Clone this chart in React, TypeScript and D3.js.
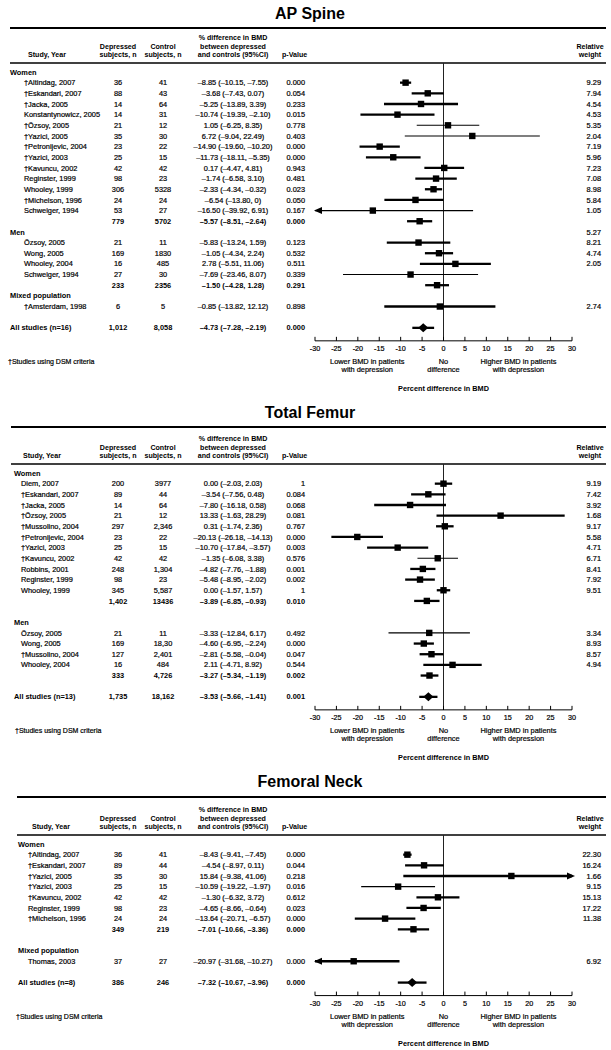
import React from "react";
import * as d3 from "d3";

type Study = [string, string, string, string, string, string]; // name, depressed n, control n, % diff (95%CI), p, weight

const FONT = "'Liberation Sans', Arial, Helvetica, sans-serif";

// ---------------- AP Spine ----------------
const apWomen: Study[] = [
  ["†Altindag, 2007", "36", "41", "–8.85 (–10.15, –7.55)", "0.000", "9.29"],
  ["†Eskandari, 2007", "88", "43", "–3.68 (–7.43, 0.07)", "0.054", "7.94"],
  ["†Jacka, 2005", "14", "64", "–5.25 (–13.89, 3.39)", "0.233", "4.54"],
  ["Konstantynowicz, 2005", "14", "31", "–10.74 (–19.39, –2.10)", "0.015", "4.53"],
  ["†Özsoy, 2005", "21", "12", "1.05 (–6.25, 8.35)", "0.778", "5.35"],
  ["†Yazici, 2005", "35", "30", "6.72 (–9.04, 22.49)", "0.403", "2.04"],
  ["†Petronijevic, 2004", "23", "22", "–14.90 (–19.60, –10.20)", "0.000", "7.19"],
  ["†Yazici, 2003", "25", "15", "–11.73 (–18.11, –5.35)", "0.000", "5.96"],
  ["†Kavuncu, 2002", "42", "42", "0.17 (–4.47, 4.81)", "0.943", "7.23"],
  ["Reginster, 1999", "98", "23", "–1.74 (–6.58, 3.10)", "0.481", "7.08"],
  ["Whooley, 1999", "306", "5328", "–2.33 (–4.34, –0.32)", "0.023", "8.98"],
  ["†Michelson, 1996", "24", "24", "–6.54 (–13.80, 0)", "0.050", "5.84"],
  ["Schweiger, 1994", "53", "27", "–16.50 (–39.92, 6.91)", "0.167", "1.05"],
];
const apWomenTotal: Study = ["", "779", "5702", "–5.57 (–8.51, –2.64)", "0.000", ""];
const apMenLabelWeight = "5.27";
const apMen: Study[] = [
  ["Özsoy, 2005", "21", "11", "–5.83 (–13.24, 1.59)", "0.123", "8.21"],
  ["Wong, 2005", "169", "1830", "–1.05 (–4.34, 2.24)", "0.532", "4.74"],
  ["Whooley, 2004", "16", "485", "2.78 (–5.51, 11.06)", "0.511", "2.05"],
  ["Schweiger, 1994", "27", "30", "–7.69 (–23.46, 8.07)", "0.339", ""],
];
const apMenTotal: Study = ["", "233", "2356", "–1.50 (–4.28, 1.28)", "0.291", ""];
const apMixed: Study[] = [
  ["†Amsterdam, 1998", "6", "5", "–0.85 (–13.82, 12.12)", "0.898", "2.74"],
];
const apAll: Study = ["All studies (n=16)", "1,012", "8,058", "–4.73 (–7.28, –2.19)", "0.000", ""];

// ---------------- Total Femur ----------------
const tfWomen: Study[] = [
  ["Diem, 2007", "200", "3977", "0.00 (–2.03, 2.03)", "1", "9.19"],
  ["†Eskandari, 2007", "89", "44", "–3.54 (–7.56, 0.48)", "0.084", "7.42"],
  ["†Jacka, 2005", "14", "64", "–7.80 (–16.18, 0.58)", "0.068", "3.92"],
  ["†Özsoy, 2005", "21", "12", "13.33 (–1.63, 28.29)", "0.081", "1.68"],
  ["†Mussolino, 2004", "297", "2,346", "0.31 (–1.74, 2.36)", "0.767", "9.17"],
  ["†Petronijevic, 2004", "23", "22", "–20.13 (–26.18, –14.13)", "0.000", "5.58"],
  ["†Yazici, 2003", "25", "15", "–10.70 (–17.84, –3.57)", "0.003", "4.71"],
  ["†Kavuncu, 2002", "42", "42", "–1.35 (–6.08, 3.38)", "0.576", "6.71"],
  ["Robbins, 2001", "248", "1,304", "–4.82 (–7.76, –1.88)", "0.001", "8.41"],
  ["Reginster, 1999", "98", "23", "–5.48 (–8.95, –2.02)", "0.002", "7.92"],
  ["Whooley, 1999", "345", "5,587", "0.00 (–1.57, 1.57)", "1", "9.51"],
];
const tfWomenTotal: Study = ["", "1,402", "13436", "–3.89 (–6.85, –0.93)", "0.010", ""];
const tfMen: Study[] = [
  ["Özsoy, 2005", "21", "11", "–3.33 (–12.84, 6.17)", "0.492", "3.34"],
  ["Wong, 2005", "169", "18,30", "–4.60 (–6.95, –2.24)", "0.000", "8.93"],
  ["†Mussolino, 2004", "127", "2,401", "–2.81 (–5.58, –0.04)", "0.047", "8.57"],
  ["Whooley, 2004", "16", "484", "2.11 (–4.71, 8.92)", "0.544", "4.94"],
];
const tfMenTotal: Study = ["", "333", "4,726", "–3.27 (–5.34, –1.19)", "0.002", ""];
const tfAll: Study = ["All studies (n=13)", "1,735", "18,162", "–3.53 (–5.66, –1.41)", "0.001", ""];

// ---------------- Femoral Neck ----------------
const fnWomen: Study[] = [
  ["†Altindag, 2007", "36", "41", "–8.43 (–9.41, –7.45)", "0.000", "22.30"],
  ["†Eskandari, 2007", "89", "44", "–4.54 (–8.97, 0.11)", "0.044", "16.24"],
  ["†Yazici, 2005", "35", "30", "15.84 (–9.38, 41.06)", "0.218", "1.66"],
  ["†Yazici, 2003", "25", "15", "–10.59 (–19.22, –1.97)", "0.016", "9.15"],
  ["†Kavuncu, 2002", "42", "42", "–1.30 (–6.32, 3.72)", "0.612", "15.13"],
  ["Reginster, 1999", "98", "23", "–4.65 (–8.66, –0.64)", "0.023", "17.22"],
  ["†Michelson, 1996", "24", "24", "–13.64 (–20.71, –6.57)", "0.000", "11.38"],
];
const fnWomenTotal: Study = ["", "349", "219", "–7.01 (–10.66, –3.36)", "0.000", ""];
const fnMixed: Study[] = [
  ["Thomas, 2003", "37", "27", "–20.97 (–31.68, –10.27)", "0.000", "6.92"],
];
const fnAll: Study = ["All studies (n=8)", "386", "246", "–7.32 (–10.67, –3.96)", "0.000", ""];

const axisTicks = [-30, -25, -20, -15, -10, -5, 0, 5, 10, 15, 20, 25, 30];
const footnote = "†Studies using DSM criteria";

// rows drawn with a thin confidence-interval line in the original
const thinRows = new Set<Study>([apWomen[4], apWomen[5], apWomen[12], apMen[3], tfWomen[7], tfMen[0], fnWomen[3]]);

// ---------------- layout helpers ----------------
type Item =
  | { kind: "group"; label: string; weight?: string }
  | { kind: "study"; s: Study }
  | { kind: "sub"; s: Study }
  | { kind: "blank" }
  | { kind: "all"; s: Study };

const grp = (label: string, weight?: string): Item => ({ kind: "group", label, weight });
const st = (arr: Study[]): Item[] => arr.map((s) => ({ kind: "study", s } as Item));
const sub = (s: Study): Item => ({ kind: "sub", s });
const blank: Item = { kind: "blank" };
const all = (s: Study): Item => ({ kind: "all", s });

function parseCI(ci: string): [number, number, number] {
  const m = ci.replace(/–/g, "-").match(/-?\d+(\.\d+)?/g) || [];
  const v = m.map(Number);
  return [v[0], v[1], v[2]];
}

interface PanelSpec {
  title: string;
  titleY: number;
  top: number;
  headLine: number;
  row0: number;
  left: number;
  groupX: number;
  headX: number;
  nameX: number;
  footX: number;
  items: Item[];
}

const STEP = 10.66;
const RIGHT = 606;
const xScale = d3.scaleLinear().domain([-30, 30]).range([315, 572]);

const panels: PanelSpec[] = [
  {
    title: "AP Spine",
    titleY: 13,
    top: 28,
    headLine: 63,
    row0: 72,
    left: 10,
    groupX: 10,
    headX: 28,
    nameX: 24,
    footX: 8,
    items: [
      grp("Women"),
      ...st(apWomen),
      sub(apWomenTotal),
      grp("Men", apMenLabelWeight),
      ...st(apMen),
      sub(apMenTotal),
      grp("Mixed population"),
      ...st(apMixed),
      blank,
      all(apAll),
    ],
  },
  {
    title: "Total Femur",
    titleY: 412,
    top: 427,
    headLine: 464,
    row0: 473,
    left: 11,
    groupX: 14,
    headX: 23,
    nameX: 21,
    footX: 15,
    items: [
      grp("Women"),
      ...st(tfWomen),
      sub(tfWomenTotal),
      blank,
      grp("Men"),
      ...st(tfMen),
      sub(tfMenTotal),
      blank,
      all(tfAll),
    ],
  },
  {
    title: "Femoral Neck",
    titleY: 781,
    top: 797,
    headLine: 835,
    row0: 844,
    left: 17,
    groupX: 18,
    headX: 32,
    nameX: 28,
    footX: 16,
    items: [
      grp("Women"),
      ...st(fnWomen),
      sub(fnWomenTotal),
      blank,
      grp("Mixed population"),
      ...st(fnMixed),
      blank,
      all(fnAll),
    ],
  },
];

const COL_DEP = 118;
const COL_CTL = 163;
const COL_CI = 233;
const COL_P = 305;
const COL_PHEAD = 282;
const COL_W = 601;
const COL_WHEAD = 590;

const TXT = 7.4;
const HEAD = 7.1;
const HALO = { stroke: "#000", strokeWidth: 0.2 };

function Marker({ s, y, kind }: { s: Study; y: number; kind: string }) {
  const [est, lo, hi] = parseCI(s[3]);
  const x = xScale;
  const [dMin, dMax] = x.domain();
  const x1 = x(Math.max(lo, dMin));
  const x2 = x(Math.min(hi, dMax));
  const sw = thinRows.has(s) ? 1.1 : 2.3;
  const parts: React.ReactNode[] = [];
  parts.push(<line key="ci" x1={x1} x2={x2} y1={y} y2={y} stroke="#000" strokeWidth={sw} />);
  if (lo < dMin) {
    const tx = x(dMin) - 1;
    parts.push(
      <path key="la" d={`M${tx},${y} L${tx + 8},${y - 3.5} L${tx + 8},${y + 3.5} Z`} fill="#000" />
    );
  }
  if (hi > dMax) {
    const tx = x(dMax) + 3;
    parts.push(
      <path key="ra" d={`M${tx},${y} L${tx - 8},${y - 3.5} L${tx - 8},${y + 3.5} Z`} fill="#000" />
    );
  }
  const cx = x(est);
  if (kind === "all") {
    parts.push(
      <path key="d" d={`M${cx - 5},${y} L${cx},${y - 4.5} L${cx + 5},${y} L${cx},${y + 4.5} Z`} fill="#000" />
    );
  } else {
    parts.push(<rect key="sq" x={cx - 3.2} y={y - 3.2} width={6.4} height={6.4} fill="#000" />);
  }
  return <g>{parts}</g>;
}

function Panel({ p }: { p: PanelSpec }) {
  const yOf = d3.scaleLinear().domain([0, 1]).range([p.row0, p.row0 + STEP]);
  const n = p.items.length;
  const allY = yOf(n - 1);
  const axisY = allY + 13;
  const hl = p.headLine;
  const b3 = hl - 6;
  const b2 = b3 - 8.5;
  const b1 = b2 - 8.5;

  return (
    <g fontFamily={FONT} fill="#000">
      <text x={310} y={p.titleY + 5.8} textAnchor="middle" fontSize={16} fontWeight="bold">
        {p.title}
      </text>
      <line x1={p.left} x2={RIGHT} y1={p.top} y2={p.top} stroke="#000" strokeWidth={2} />
      <g fontSize={HEAD} fontWeight="bold">
        <text x={p.headX} y={b3}>Study, Year</text>
        <text x={COL_DEP} y={b2} textAnchor="middle">Depressed</text>
        <text x={COL_DEP} y={b3} textAnchor="middle">subjects, n</text>
        <text x={COL_CTL} y={b2} textAnchor="middle">Control</text>
        <text x={COL_CTL} y={b3} textAnchor="middle">subjects, n</text>
        <text x={COL_CI} y={b1} textAnchor="middle">% difference in BMD</text>
        <text x={COL_CI} y={b2} textAnchor="middle">between depressed</text>
        <text x={COL_CI} y={b3} textAnchor="middle">and controls (95%CI)</text>
        <text x={COL_PHEAD} y={b3}>p-Value</text>
        <text x={COL_WHEAD} y={b2} textAnchor="middle">Relative</text>
        <text x={COL_WHEAD} y={b3} textAnchor="middle">weight</text>
      </g>
      <line x1={p.left} x2={RIGHT} y1={hl} y2={hl} stroke="#000" strokeWidth={1.5} />
      <line x1={xScale(0)} x2={xScale(0)} y1={hl} y2={axisY} stroke="#222" strokeWidth={1} />
      {p.items.map((it, i) => {
        const y = yOf(i);
        const by = y + 2.6;
        if (it.kind === "blank") return null;
        if (it.kind === "group") {
          return (
            <g key={i}>
              <text x={p.groupX} y={by} fontSize={TXT} fontWeight="bold">{it.label}</text>
              {it.weight ? (
                <text x={COL_W} y={by} fontSize={TXT} textAnchor="end" {...HALO}>{it.weight}</text>
              ) : null}
            </g>
          );
        }
        const s = it.s;
        const bold = it.kind !== "study";
        const halo = bold ? {} : HALO;
        return (
          <g key={i}>
            <g fontSize={TXT} fontWeight={bold ? "bold" : "normal"} {...halo}>
              <text x={it.kind === "all" ? p.groupX : p.nameX} y={by}>{s[0]}</text>
              <text x={COL_DEP} y={by} textAnchor="middle">{s[1]}</text>
              <text x={COL_CTL} y={by} textAnchor="middle">{s[2]}</text>
              <text x={COL_CI} y={by} textAnchor="middle">{s[3]}</text>
              <text x={COL_P} y={by} textAnchor="end">{s[4]}</text>
            </g>
            {s[5] ? (
              <text x={COL_W} y={by} fontSize={TXT} textAnchor="end" {...HALO}>{s[5]}</text>
            ) : null}
            <Marker s={s} y={y} kind={it.kind} />
          </g>
        );
      })}
      <line x1={xScale(-30)} x2={xScale(30)} y1={axisY} y2={axisY} stroke="#000" strokeWidth={1} />
      {axisTicks.map((t) => (
        <g key={t}>
          <line x1={xScale(t)} x2={xScale(t)} y1={axisY} y2={axisY - 4} stroke="#000" strokeWidth={1} />
          <text x={xScale(t)} y={axisY + 10.5} fontSize={7.2} textAnchor="middle" {...HALO}>
            {t < 0 ? `-${Math.abs(t)}` : `${t}`}
          </text>
        </g>
      ))}
      <g fontSize={7.4} textAnchor="middle" {...HALO}>
        <text x={xScale(-17.8)} y={axisY + 23.5}>Lower BMD in patients</text>
        <text x={xScale(-17.8)} y={axisY + 31.5}>with depression</text>
        <text x={xScale(0)} y={axisY + 23.5}>No</text>
        <text x={xScale(0)} y={axisY + 31.5}>difference</text>
        <text x={xScale(17.5)} y={axisY + 23.5}>Higher BMD in patients</text>
        <text x={xScale(17.5)} y={axisY + 31.5}>with depression</text>
      </g>
      <text x={xScale(0)} y={axisY + 50.5} fontSize={7.3} fontWeight="bold" textAnchor="middle">
        Percent difference in BMD
      </text>
      <text x={p.footX} y={axisY + 23.5} fontSize={7} {...HALO}>{footnote}</text>
    </g>
  );
}

export default function App() {
  return (
    <svg
      width={611}
      height={1050}
      viewBox="0 0 611 1050"
      style={{ position: "absolute", left: 0, top: 0, background: "#fff" }}
    >
      <rect x={0} y={0} width={611} height={1050} fill="#fff" />
      {panels.map((p) => (
        <Panel key={p.title} p={p} />
      ))}
    </svg>
  );
}
